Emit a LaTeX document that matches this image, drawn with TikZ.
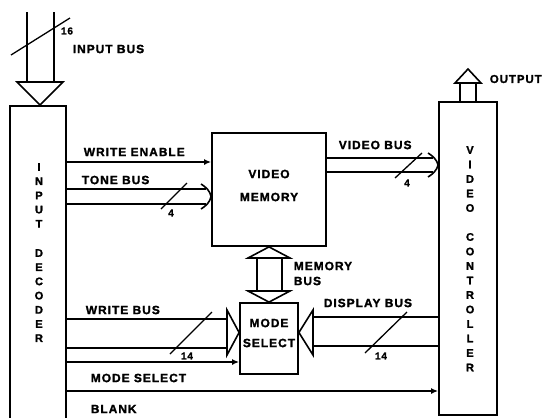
\documentclass[tikz,border=0pt]{standalone}
\usepackage{fontspec}
\setmainfont{Liberation Sans}[LetterSpace=8, BoldFeatures={FakeBold=1.5}]
\usetikzlibrary{arrows.meta}
\begin{document}
\begin{tikzpicture}[x=1pt,y=-1pt, line width=1.6pt, line join=miter,
  box/.style={draw, line width=1.8pt, inner sep=0pt},
  lab/.style={font=\bfseries\fontsize{12}{13}\selectfont, inner sep=0pt, anchor=west},
  ctr/.style={font=\bfseries\fontsize{12}{13}\selectfont, inner sep=0pt},
  num/.style={font=\bfseries\fontsize{10}{11}\selectfont, inner sep=0pt},
  vl/.style={font=\bfseries\fontsize{11}{11}\selectfont, inner sep=0pt},
  sig/.style={-{Latex[length=7pt,width=6pt]}},
  slash/.style={line width=1.3pt}]
\clip (0,0) rectangle (544,418);
\fill[white] (0,0) rectangle (544,418);

% blocks
\node[box, minimum width=56pt, minimum height=340pt] (dec) at (38,276) {};
\node[box, minimum width=114pt, minimum height=113pt] (vm) at (269,189.5) {};
\node[box, minimum width=58pt, minimum height=71pt] (ms) at (269,338.5) {};
\node[box, minimum width=58pt, minimum height=313pt] (vc) at (468,258.5) {};

% block texts
\node[ctr] (vmt1) at (269,174) {VIDEO};
\node[ctr] (vmt2) at (269,197) {MEMORY};
\node[ctr] (mst1) at (269,323) {MODE};
\node[ctr] (mst2) at (269,343) {SELECT};
\foreach \l [count=\i from 0] in {I,N,P,U,T}
  \node[vl] (d\i) at (39,167+14.2*\i) {\l};
\foreach \l [count=\i from 0] in {D,E,C,O,D,E,R}
  \node[vl] (e\i) at (39,253+14.2*\i) {\l};
\foreach \l [count=\i from 0] in {V,I,D,E,O}
  \node[vl] (v\i) at (470,150+14.5*\i) {\l};
\foreach \l [count=\i from 0] in {C,O,N,T,R,O,L,L,E,R}
  \node[vl] (c\i) at (470,237+14.5*\i) {\l};

% input bus
\coordinate (ibA) at (27,12);
\coordinate (ibB) at (54,12);
\draw (ibA) -- (27,82);
\draw (ibB) -- (54,82);
\draw (17,82) -- (63,82) -- (40,105) -- cycle;
\draw[slash] (11,55) -- (70,18);
\node[num] (n16) at (67,31) {16};
\node[lab] (ibl) at (72,49) {INPUT BUS};

% output
\draw (460,101) -- (460,83);
\draw (476,101) -- (476,83);
\draw (455,83) -- (481,83) -- (468,69) -- cycle;
\node[lab, font=\bfseries\fontsize{11.5}{13}\selectfont] (outl) at (489,79) {OUTPUT};

% write enable
\draw[sig] (dec.east |- 0,162) -- (vm.west |- 0,162);
\node[lab] (wel) at (83,152) {WRITE ENABLE};

% tone bus
\draw (dec.east |- 0,189) -- (206,189);
\draw (dec.east |- 0,204) -- (206,204);
\draw (201,184) .. controls (206,187) and (210,191) .. (vm.west |- 0,196.5)
      .. controls (210,202) and (206,206) .. (201,209);
\draw[slash] (161,209) -- (187,183);
\node[num] (n4a) at (171,213) {4};
\node[lab] (tbl) at (81,180) {TONE BUS};

% video bus
\draw (vm.east |- 0,158) -- (433,158);
\draw (vm.east |- 0,172) -- (433,172);
\draw (428,153) .. controls (433,156) and (437,160) .. (vc.west |- 0,165)
      .. controls (437,170) and (433,174) .. (428,177);
\draw[slash] (395,178) -- (422,153);
\node[num] (n4b) at (407,183) {4};
\node[lab] (vbl) at (338,145) {VIDEO BUS};

% memory bus
\draw (vm.south) -- (290,258) -- (248,258) -- cycle;
\draw (257,258) -- (257,291);
\draw (282,258) -- (282,291);
\draw (248,291) -- (290,291) -- (ms.north) -- cycle;
\node[lab] (mbl1) at (293,266) {MEMORY};
\node[lab] (mbl2) at (293,281) {BUS};

% write bus
\draw (dec.east |- 0,319) -- (227,319);
\draw (dec.east |- 0,348) -- (227,348);
\draw (227,310) -- (ms.west |- 0,332.5) -- (227,355) -- cycle;
\draw[slash] (170,354) -- (212,312);
\node[num] (n14a) at (187,356) {14};
\node[lab] (wbl) at (85,310) {WRITE BUS};

% display bus
\draw (vc.west |- 0,317) -- (313,317);
\draw (vc.west |- 0,346) -- (313,346);
\draw (313,310) -- (ms.east |- 0,332.5) -- (313,355) -- cycle;
\draw[slash] (365,353) -- (407,312);
\node[num] (n14b) at (381,356) {14};
\node[lab] (dbl) at (323,303) {DISPLAY BUS};

% mode select and blank
\draw[sig] (dec.east |- 0,362) -- (ms.west |- 0,362);
\node[lab] (msl) at (90,378) {MODE SELECT};
\draw[sig] (dec.east |- 0,391) -- (vc.west |- 0,391);
\node[lab] (bll) at (90,409) {BLANK};
\end{tikzpicture}
\end{document}
